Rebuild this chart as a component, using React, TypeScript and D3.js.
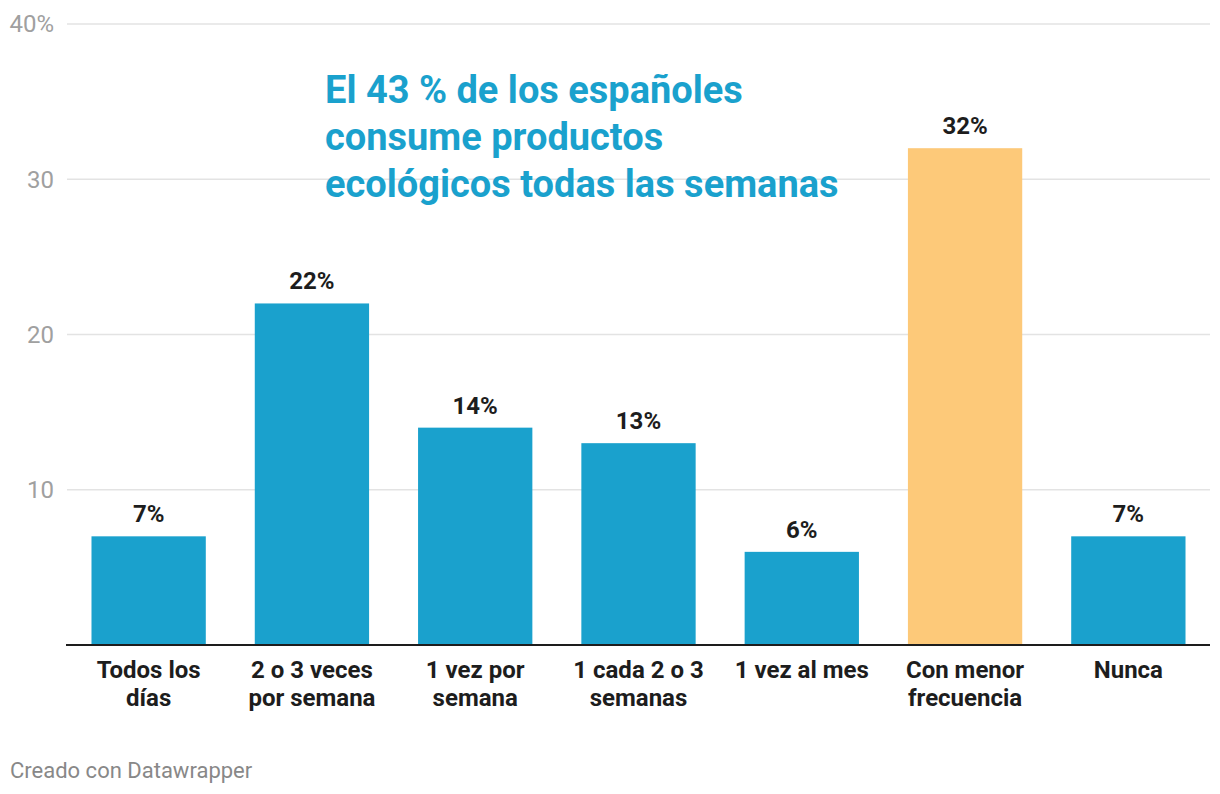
import React from "react";
import * as d3 from "d3";

const categories: string[][] = [
  ["Todos los", "días"],
  ["2 o 3 veces", "por semana"],
  ["1 vez por", "semana"],
  ["1 cada 2 o 3", "semanas"],
  ["1 vez al mes"],
  ["Con menor", "frecuencia"],
  ["Nunca"],
];
const values: number[] = [7, 22, 14, 13, 6, 32, 7];
const highlight: boolean[] = [false, false, false, false, false, true, false];
const yTicks: number[] = [10, 20, 30, 40];
const titleLines: string[] = [
  "El 43 % de los españoles",
  "consume productos",
  "ecológicos todas las semanas",
];
const footer = "Creado con Datawrapper";

const W = 1220;
const H = 794;
const left = 67;
const right = 1210;
const top = 24;
const bottom = 645;

export default function App() {
  const x = d3
    .scaleBand<number>()
    .domain(values.map((_, i) => i))
    .range([left, right])
    .paddingInner(0.3)
    .paddingOuter(0.15);
  const y = d3.scaleLinear().domain([0, 40]).range([bottom, top]);
  const font = "Roboto, 'Noto Sans', sans-serif";

  return (
    <svg
      width={W}
      height={H}
      style={{ position: "absolute", left: 0, top: 0, background: "#fff" }}
      fontFamily={font}
    >
      {yTicks.map((t) => (
        <g key={t}>
          <line x1={left} x2={right} y1={y(t)} y2={y(t)} stroke="#e3e3e3" strokeWidth={1.5} />
          <text
            x={54}
            y={y(t)}
            dy="0.35em"
            textAnchor="end"
            fontSize={24}
            fill="#a0a0a0"
          >
            {t === 40 ? `${t}%` : t}
          </text>
        </g>
      ))}
      {titleLines.map((l, i) => (
        <text
          key={i}
          x={325}
          y={103 + i * 47}
          fontSize={38}
          fontWeight={700}
          fill="#1aa1cd"
        >
          {l}
        </text>
      ))}
      {values.map((v, i) => (
        <g key={i}>
          <rect
            x={x(i)}
            y={y(v)}
            width={x.bandwidth()}
            height={y(0) - y(v)}
            fill={highlight[i] ? "#fdc979" : "#1aa1cd"}
          />
          <text
            x={(x(i) as number) + x.bandwidth() / 2}
            y={y(v) - 14}
            textAnchor="middle"
            fontSize={24}
            fontWeight={700}
            fill="#1d1d1d"
          >
            {v}%
          </text>
          {categories[i].map((c, j) => (
            <text
              key={j}
              x={(x(i) as number) + x.bandwidth() / 2}
              y={678 + j * 28}
              textAnchor="middle"
              fontSize={24}
              fontWeight={700}
              fill="#1d1d1d"
            >
              {c}
            </text>
          ))}
        </g>
      ))}
      <line x1={left - 1} x2={right} y1={y(0)} y2={y(0)} stroke="#1d1d1d" strokeWidth={2} />
      <text x={10} y={778} fontSize={22} fill="#888">
        {footer}
      </text>
    </svg>
  );
}
